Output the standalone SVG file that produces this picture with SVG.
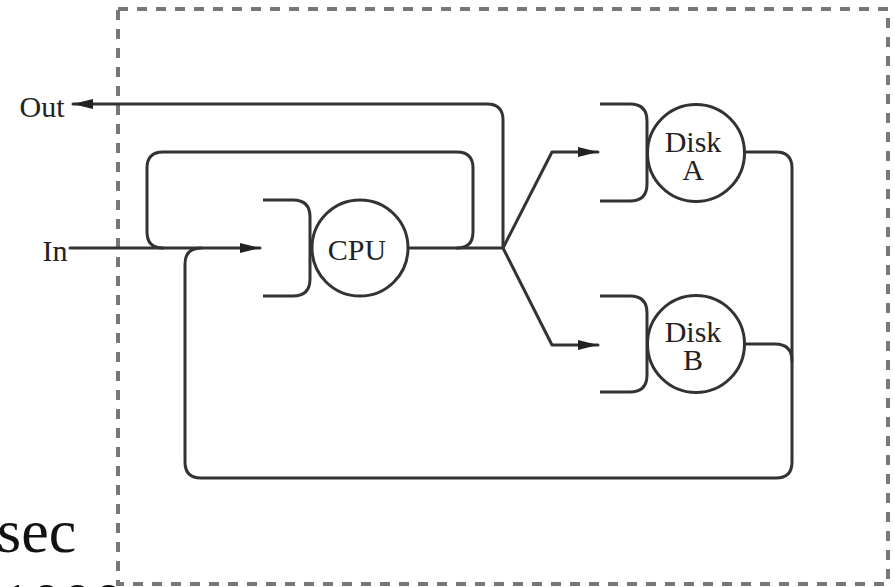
<svg xmlns="http://www.w3.org/2000/svg" width="895" height="587" viewBox="0 0 895 587">
  <style>
    .wire { fill: none; stroke: #333; stroke-width: 3; stroke-linecap: round; stroke-linejoin: round; }
    .node { fill: #fff; stroke: #333; stroke-width: 3; }
    .queue { fill: none; stroke: #333; stroke-width: 3; }
    .label { font-family: "Liberation Serif", "DejaVu Serif", serif; font-size: 30px; fill: #222; text-anchor: middle; }
    .boundary { fill: none; stroke: #777; stroke-width: 4; stroke-dasharray: 10 9; }
    .slide { font-family: "Liberation Serif", "DejaVu Serif", serif; font-size: 62px; fill: #111; }
  </style>
  <defs>
    <marker id="arrow" viewBox="0 0 20 10" refX="20" refY="5" markerWidth="20" markerHeight="10" markerUnits="userSpaceOnUse" orient="auto">
      <path d="M0,0 L20,5 L0,10 Z" fill="#222"/>
    </marker>
  </defs>
  <rect width="895" height="587" fill="#fff"/>

  <!-- slide text partly outside the system boundary -->
  <text class="slide" x="-3" y="552">sec</text>
  <text class="slide" x="0" y="625">1000</text>

  <!-- system boundary -->
  <rect class="boundary" x="118" y="9" width="770" height="575"/>

  <g id="connectors">
    <!-- external input -->
    <path class="wire" d="M70,248 H260" marker-end="url(#arrow)"/>
    <!-- output back to outside -->
    <path class="wire" d="M503,248 V120 Q503,104 487,104 H73" marker-end="url(#arrow)"/>
    <!-- CPU to fork point -->
    <path class="wire" d="M408,248 H503"/>
    <!-- CPU feedback loop -->
    <path class="wire" d="M163,248 Q147,248 147,232 V168 Q147,152 163,152 H457 Q473,152 473,168 V232 Q473,248 457,248"/>
    <!-- fork to disks -->
    <path class="wire" d="M503,248 L552,152 H598" marker-end="url(#arrow)"/>
    <path class="wire" d="M503,248 L552,345 H598" marker-end="url(#arrow)"/>
    <!-- disks back to CPU -->
    <path class="wire" d="M745,152 H776 Q792,152 792,168 V462 Q792,478 776,478 H201 Q185,478 185,462 V264 Q185,248 201,248"/>
    <path class="wire" d="M745,344 H775 Q792,344 792,361"/>
  </g>

  <g id="cpu">
    <path class="queue" d="M263,200 H293 Q310,200 310,217 V279 Q310,296 293,296 H263"/>
    <circle class="node" cx="360" cy="248" r="48"/>
    <text class="label" x="357" y="260">CPU</text>
  </g>

  <g id="disk-a">
    <path class="queue" d="M600,104 H630 Q647,104 647,121 V184 Q647,201 630,201 H600"/>
    <circle class="node" cx="696" cy="153" r="48.5"/>
    <text class="label" x="693" y="152">Disk</text>
    <text class="label" x="693" y="180">A</text>
  </g>

  <g id="disk-b">
    <path class="queue" d="M600,296 H630 Q647,296 647,313 V375 Q647,392 630,392 H600"/>
    <circle class="node" cx="696" cy="344" r="48.5"/>
    <text class="label" x="693" y="342">Disk</text>
    <text class="label" x="693" y="370">B</text>
  </g>

  <g id="in-label">
    <text class="label" x="55" y="261">In</text>
  </g>
  <g id="out-label">
    <text class="label" x="42" y="117">Out</text>
  </g>
</svg>
